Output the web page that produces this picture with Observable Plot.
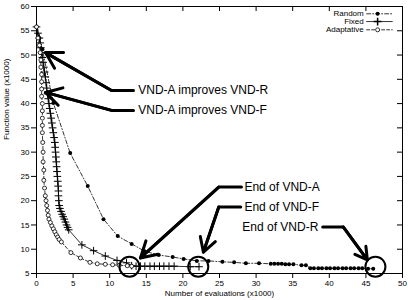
<!DOCTYPE html>
<html><head><meta charset="utf-8">
<script src="https://cdn.jsdelivr.net/npm/d3@7"></script>
<script src="https://cdn.jsdelivr.net/npm/@observablehq/plot@0.6"></script>
<style>body{margin:0;background:#fff}</style>
</head><body><div id="chart"></div>
<script>
// ---- data (x in thousands of evaluations, y = function value x1000) ----
const xTicks = [0,5,10,15,20,25,30,35,40,45,50];
const yTicks = [5,10,15,20,25,30,35,40,45,50,55,60];

const randomX = [0,0.4,0.8,2.3,4.6,7.0,9.15,11.1,13.0,14.75,16.7,18.6,20.1,21.9,23.5,25.4,27.0,28.6,30.4,32.0,32.5,33.0,33.5,34.0,34.5,35.1,36.2,36.8,37.4,37.9,38.5,39.0,39.6,40.1,40.7,41.2,41.8,42.3,42.9,43.4,44.0,44.5,45.3,46.0];
const randomY = [55.8,53.5,51.2,40.1,29.8,23.0,16.2,12.7,11.1,9.6,8.8,8.4,8.0,7.6,7.6,7.4,7.3,7.1,7.1,7.0,7.0,7.0,7.0,6.9,6.9,6.9,6.7,6.7,6.1,6.1,6.1,6.1,6.1,6.1,6.1,6.1,6.1,6.1,6.1,6.1,6.1,6.1,6.0,6.0];

const fixedX = [0,0.2,0.4,0.5,0.6,0.7,0.8,0.9,1.0,1.1,1.2,1.3,1.4,1.5,1.6,1.7,1.8,1.9,2.0,2.1,2.2,2.3,2.4,2.5,2.55,2.6,2.65,2.7,2.75,2.8,2.85,2.9,2.95,3.0,3.0,3.05,3.1,3.2,3.35,3.5,3.65,3.8,3.95,4.1,4.25,4.4,6.2,7.8,9.4,11.0,12.3,13.0,13.6,14.2,14.8,15.5,16.1,16.8,17.4,18.1,18.8,21.0,22.2];
const fixedY = [55.8,54.5,53.5,52.5,51.5,50.5,49.5,48.5,47.5,46.5,45.5,44.3,43.2,42,41,40,39,38,37,36,35,34,33,32,31,30,29,28,27,26,25,24,23,22,21,20,19,18.4,17.8,17.2,16.7,16.2,15.6,15.0,14.5,14.0,10.9,9.7,8.6,7.7,7.2,6.6,6.5,6.5,6.5,6.5,6.5,6.5,6.5,6.5,6.5,6.4,6.4];

const adaptiveX = [0,0.2,0.4,0.5,0.6,0.6,0.7,0.7,0.7,0.7,0.8,0.8,0.8,0.8,0.8,0.85,0.9,0.9,1.0,1.0,1.1,1.2,1.3,1.4,1.5,1.6,1.7,1.9,2.1,2.3,2.5,2.7,2.9,3.1,3.4,4.7,6.0,7.3,8.3,9.4,10.4,11.3,12.4,13.0];
const adaptiveY = [55.8,53.5,52,50.5,49,47.5,46,44.5,43,41.5,40,38.5,37,35.5,34,32,30,28,26.3,24.2,22.6,21,20,19,18,17,16.2,15.5,14.8,14.2,13.6,13.0,12.5,12.0,11.5,9.3,8.2,7.3,7.0,6.9,6.8,6.7,6.6,6.5];

// legend
const legendNames = ["Random","Fixed","Adaptative"];
const legendY = [58.5,56.9,55.2];

// annotations (data units)
const annoText = ["VND-A improves VND-R","VND-A improves VND-F","End of VND-A","End of VND-F","End of VND-R"];
const annoTextX = [13.9,13.9,28.4,28.4,38.5];
const annoTextY = [42.7,38.6,22.8,18.7,14.6];
const annoAnchor = ["start","start","start","start","end"];
const arrowPaths = [
  {x:[13.25,10.25,1.23], y:[42.7,42.7,50.5]},
  {x:[13.25,10.25,1.23], y:[38.6,38.6,42.3]},
  {x:[28.0,24.9,14.2],  y:[22.8,22.8,8.2]},
  {x:[27.9,24.9,22.8],  y:[18.7,18.7,9.4]},
  {x:[39.1,41.9,45.2],  y:[14.6,14.6,7.8]}
];
const endCircleX = [12.7,22.1,46.3];
const endCircleY = [6.4,6.4,6.4];

// ---- build tables ----
const zip = (xs, ys) => xs.map((x,i) => ({x, y: ys[i]}));
const random = zip(randomX, randomY);
const fixed = zip(fixedX, fixedY);
const adaptive = zip(adaptiveX, adaptiveY);
const annos = annoText.map((t,i) => ({t, x: annoTextX[i], y: annoTextY[i], a: annoAnchor[i]}));
const circles = zip(endCircleX, endCircleY);

const W = 408, H = 300, ML = 36, MR = 6, MT = 6, MB = 27;
const font = "Liberation Sans, Arial, Helvetica, sans-serif";

const lineStyles = {
  Random: {strokeDasharray: "4,2,1,2"},
  Fixed: {},
  Adaptative: {strokeDasharray: "3,2"}
};

const marks = [
  Plot.frame({stroke: "black", strokeWidth: 1}),
  Plot.axisY({ticks: yTicks, tickSize: 5, tickPadding: 2, label: null, fontSize: 8}),
  Plot.axisX({ticks: xTicks, tickSize: 5, tickPadding: 2, label: null, fontSize: 8}),
  Plot.ruleX(xTicks, {x: d => d, insetBottom: H - MT - MB - 5, stroke: "black"}),
  Plot.ruleY(yTicks, {y: d => d, insetLeft: W - ML - MR - 5, stroke: "black"}),
  Plot.text(["Function value (x1000)"], {frameAnchor: "left", rotate: -90, dx: -30, fontSize: 8}),
  Plot.text(["Number of evaluations (x1000)"], {frameAnchor: "bottom", dy: 22, fontSize: 8}),

  // series
  Plot.line(random, {x: "x", y: "y", stroke: "black", strokeWidth: 0.8, ...lineStyles.Random}),
  Plot.dot(random, {x: "x", y: "y", r: 2, fill: "black"}),
  Plot.line(fixed, {x: "x", y: "y", stroke: "black", strokeWidth: 0.8}),
  Plot.dot(fixed, {x: "x", y: "y", symbol: "plus", r: 2.6, stroke: "black", strokeWidth: 1}),
  Plot.line(adaptive, {x: "x", y: "y", stroke: "black", strokeWidth: 0.8, ...lineStyles.Adaptative}),
  Plot.dot(adaptive, {x: "x", y: "y", r: 2, stroke: "black", fill: "white", strokeWidth: 0.8}),

  // legend
  Plot.text(legendNames, {x: 44.7, y: (d,i) => legendY[i], text: d => d, textAnchor: "end", fontSize: 8}),
  ...legendNames.map((n,i) => Plot.line([{x:45.1,y:legendY[i]},{x:48.6,y:legendY[i]}], {x:"x", y:"y", stroke:"black", strokeWidth:0.8, ...lineStyles[n]})),
  Plot.dot([legendNames[0]], {x: 46.6, y: legendY[0], r: 2, fill: "black"}),
  Plot.dot([legendNames[1]], {x: 46.6, y: legendY[1], symbol: "plus", r: 2.6, stroke: "black"}),
  Plot.dot([legendNames[2]], {x: 46.6, y: legendY[2], r: 2, stroke: "black", fill: "white", strokeWidth: 0.8}),

  // annotations
  ...arrowPaths.map(p => Plot.line(zip(p.x, p.y), {x: "x", y: "y", stroke: "black", strokeWidth: 3})),
  Plot.arrow(arrowPaths, {x1: p => p.x[1], y1: p => p.y[1], x2: p => p.x[2], y2: p => p.y[2], stroke: "black", strokeWidth: 3, headLength: 9, bend: 0}),
  Plot.dot(circles, {x: "x", y: "y", r: 10, stroke: "black", strokeWidth: 2, fill: "none"}),
  Plot.text(annos.filter(d => d.a === "start"), {x: "x", y: "y", text: "t", textAnchor: "start", fontSize: 12}),
  Plot.text(annos.filter(d => d.a === "end"), {x: "x", y: "y", text: "t", textAnchor: "end", fontSize: 12})
];

const chart = Plot.plot({
  width: W, height: H,
  marginLeft: ML, marginRight: MR, marginTop: MT, marginBottom: MB,
  style: {fontFamily: font, fontSize: "8px", background: "white", color: "black", overflow: "visible"},
  x: {domain: [0, 50]},
  y: {domain: [5, 60]},
  marks
});
document.getElementById("chart").appendChild(chart);
</script>
</body></html>
